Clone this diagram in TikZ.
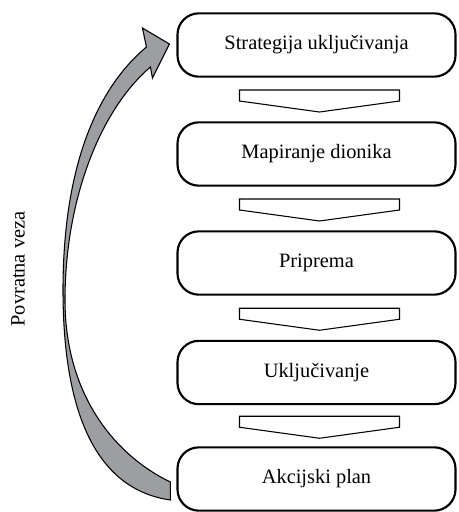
\documentclass[tikz,border=0pt]{standalone}
\usepackage{fontspec}
\setmainfont{Liberation Serif}
\usetikzlibrary{calc}
\definecolor{ink}{HTML}{000000}
\definecolor{loopgray}{HTML}{9D9EA2}

\begin{document}
\begin{tikzpicture}[
  x=0.75pt, y=-0.75pt,
  font=\fontsize{15.3}{18}\selectfont,
  text=ink,
  stage/.style={
    draw=ink,
    line width=1.6pt,
    rounded corners=16pt,
    minimum width=208.5pt,
    minimum height=47.5pt,
    inner sep=0pt
  },
  chevron/.style={draw=ink, line width=0.8pt, fill=white, line join=miter},
  feedback/.style={draw=ink, line width=0.8pt, fill=loopgray, line join=miter},
  sidelabel/.style={rotate=90}
]
\useasboundingbox (0,0) rectangle (459,512);

\node[stage] (strategy) at (316.5,45) {Strategija uključivanja};
\node[stage] (mapping) at (316.5,154) {Mapiranje dionika};
\node[stage] (prep) at (316.5,263) {Priprema};
\node[stage] (engage) at (316.5,372.5) {Uključivanje};
\node[stage] (plan) at (316.5,479) {Akcijski plan};

% block arrows between the stages
\foreach \a/\b in {strategy/mapping, mapping/prep, prep/engage, engage/plan}{
  \coordinate (mid) at ($(\a.south)!0.5!(\b.north)$);
  \draw[chevron] ($(mid)+(-77,-9.5)$) -- ($(mid)+(83,-9.5)$) -- ($(mid)+(83,1.5)$)
    -- ($(mid)+(3,12.5)$) -- ($(mid)+(-77,1.5)$) -- cycle;
}

% feedback arrow
\path[feedback] ($(plan.west)+(-6,3)$) .. controls (120,458) and (65,400) .. (65,300)
  .. controls (65,200) and (100,110) .. ($(strategy.west)+(-26,22)$)
  -- ($(strategy.west)+(-24,33)$) -- ($(strategy.west)+(-7,-1)$)
  -- ($(strategy.west)+(-34,-17)$) -- ($(strategy.west)+(-30,2)$)
  .. controls (95,90) and (63,170) .. (63,290)
  .. controls (63,420) and (100,490) .. ($(plan.west)+(-6,21)$) -- cycle;

\node[sidelabel] (fblabel) at (18,269) {Povratna veza};

\end{tikzpicture}
\end{document}
